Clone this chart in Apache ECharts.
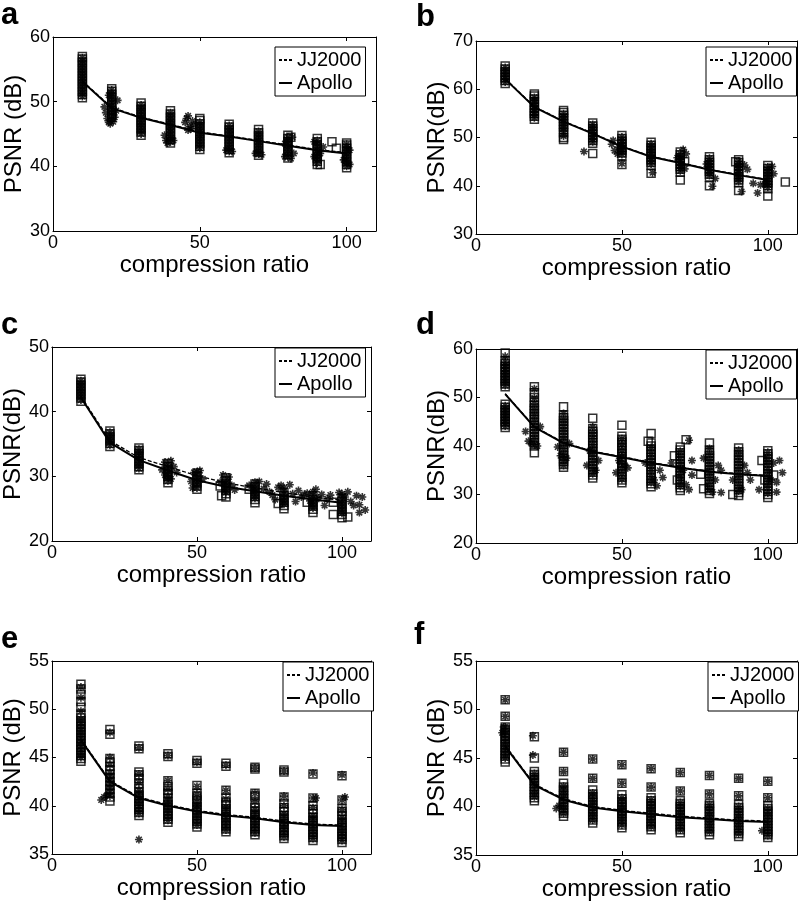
<!DOCTYPE html>
<html>
<head>
<meta charset="utf-8">
<title>PSNR vs compression ratio</title>
<script src="https://cdn.jsdelivr.net/npm/echarts@6.0.0/dist/echarts.min.js"></script>
<style>
  html, body { margin: 0; padding: 0; background: #fff; }
  #chart { width: 799px; height: 902px; }
</style>
</head>
<body>
<div id="chart"></div>
<script>
// compression ratios where every image set was coded
const ratios = [10, 20, 30, 40, 50, 60, 70, 80, 90, 100];

// ---- panel a ----
const aJJ2000 = [53.2, 49.1, 47.6, 46.5, 45.3, 44.7, 44.0, 43.3, 42.6, 42.1];
const aApollo = [53.1, 49.0, 47.5, 46.4, 45.2, 44.6, 43.9, 43.2, 42.5, 42.0];
const aSquares = [
  [50.6, 51.1, 51.6, 52.1, 52.6, 53.1, 53.6, 54.1, 54.6, 55.1, 55.6, 56.1, 56.6, 57.0],
  [47.6, 48.1, 48.6, 49.1, 49.6, 50.1, 50.6, 51.1, 51.6, 52.0],
  [44.8, 45.3, 45.8, 46.3, 46.8, 47.3, 47.8, 48.3, 48.8, 49.3, 49.8],
  [43.6, 44.1, 44.6, 45.1, 45.6, 46.1, 46.6, 47.1, 47.6, 48.1, 48.6],
  [42.6, 43.1, 43.6, 44.1, 44.6, 45.1, 45.6, 46.1, 46.6, 47.1, 47.4],
  [42.1, 42.6, 43.1, 43.6, 44.1, 44.6, 45.1, 45.6, 46.1, 46.5],
  [41.7, 42.2, 42.7, 43.2, 43.7, 44.2, 44.7, 45.2, 45.7],
  [41.3, 41.8, 42.3, 42.8, 43.3, 43.8, 44.3, 44.8],
  [40.3, 40.8, 41.3, 41.8, 42.3, 42.8, 43.3, 43.8, 44.3],
  [39.8, 40.3, 40.8, 41.3, 41.8, 42.3, 42.8, 43.3, 43.6]
];
const aSquaresOff = [[95, 43.8], [96.5, 42.8], [91, 40.3], [81, 44.5]];
const aStars = [
  [50.8, 51.3, 51.8, 52.3, 52.8, 53.3, 53.8, 54.3, 54.8, 55.3, 55.8, 56.3, 56.8],
  [47.3, 47.8, 48.3, 48.8, 49.3, 49.8, 50.3, 50.8, 51.3, 51.8],
  [45.0, 45.5, 46.0, 46.5, 47.0, 47.5, 48.0, 48.5, 49.0, 49.5],
  [43.8, 44.3, 44.8, 45.3, 45.8, 46.3, 46.8, 47.3, 47.8, 48.3],
  [42.8, 43.3, 43.8, 44.3, 44.8, 45.3, 45.8, 46.3, 46.8],
  [42.3, 42.8, 43.3, 43.8, 44.3, 44.8, 45.3, 45.8, 46.3],
  [41.9, 42.4, 42.9, 43.4, 43.9, 44.4, 44.9, 45.4],
  [41.5, 42.0, 42.5, 43.0, 43.5, 44.0, 44.5],
  [40.5, 41.0, 41.5, 42.0, 42.5, 43.0, 43.5, 44.0],
  [40.0, 40.5, 41.0, 41.5, 42.0, 42.5, 43.0, 43.4]
];
const aStarsOff = [[17.5, 49.2], [18, 48.3], [18.5, 47.4], [19, 46.8], [19.5, 46.6], [20.5, 46.9], [21, 47.6],
  [21.5, 48.6], [22, 50.2], [19, 51], [38.5, 44], [39, 43.6], [38, 44.8], [41, 44], [45, 46.8], [45.5, 47.4],
  [46, 47.8], [46.5, 46.2], [47, 45.8], [47.5, 47], [46, 45.6], [48, 46.4], [79, 41.5], [81, 41.2], [82, 42],
  [79, 43.5], [81.5, 44.5], [89, 41.5], [91, 42], [92, 43], [89, 43.8], [99, 41], [101, 42.5], [101, 40.3],
  [61, 42.3], [59, 42.5], [69, 42], [71, 41.8]];

// ---- panel b ----
const bJJ2000 = [62.2, 56.4, 53.4, 50.9, 48.2, 46.1, 44.8, 43.4, 42.3, 41.3];
const bApollo = [62.1, 56.3, 53.3, 50.8, 48.1, 46.0, 44.7, 43.3, 42.2, 41.2];
const bSquares = [
  [61.2, 61.8, 62.4, 63.0, 63.6, 64.2, 64.8],
  [53.8, 54.4, 55.0, 55.6, 56.2, 56.8, 57.4, 58.0, 58.6, 59.0],
  [49.6, 50.0, 51.0, 51.6, 52.2, 52.8, 53.4, 54.0, 54.6, 55.2, 55.6],
  [46.7, 48.8, 49.4, 50.0, 50.6, 51.2, 51.8, 52.4, 53.0],
  [44.4, 46.2, 46.8, 47.4, 48.0, 48.6, 49.2, 49.8, 50.4],
  [42.6, 44.2, 44.8, 45.4, 46.0, 46.6, 47.2, 47.8, 48.4, 49.0],
  [41.2, 42.8, 43.4, 44.0, 44.6, 45.2, 45.8, 46.4, 47.0],
  [40.0, 41.8, 42.4, 43.0, 43.6, 44.2, 44.8, 45.4, 46.0],
  [39.0, 40.6, 41.2, 41.8, 42.4, 43.0, 43.6, 44.2, 44.8, 45.4],
  [37.9, 39.4, 40.0, 40.6, 41.2, 41.8, 42.4, 43.0, 43.6, 44.2]
];
const bSquaresOff = [[106, 40.8], [71.5, 45], [89, 45]];
const bStars = [
  [61.5, 62.1, 62.7, 63.3, 63.9, 64.5],
  [54.1, 54.7, 55.3, 55.9, 56.5, 57.1, 57.7, 58.3],
  [50.3, 51.3, 51.9, 52.5, 53.1, 53.7, 54.3, 54.9],
  [49.1, 49.7, 50.3, 50.9, 51.5, 52.1, 52.7],
  [46.5, 47.1, 47.7, 48.3, 48.9, 49.5, 50.1],
  [44.5, 45.1, 45.7, 46.3, 46.9, 47.5, 48.1, 48.7],
  [43.1, 43.7, 44.3, 44.9, 45.5, 46.1, 46.7],
  [42.1, 42.7, 43.3, 43.9, 44.5, 45.1, 45.7],
  [40.9, 41.5, 42.1, 42.7, 43.3, 43.9, 44.5, 45.1],
  [39.7, 40.3, 40.9, 41.5, 42.1, 42.7, 43.3, 43.9]
];
const bStarsOff = [[37, 47.1], [46.5, 48.6], [47.5, 47.3], [48.5, 46.6], [47, 49.4], [49, 48], [50, 44.6],
  [60.5, 42.7], [71, 47.5], [72, 46.6], [69, 45.8], [71.5, 43.5], [81, 39.9], [82, 41.5], [79, 44.5],
  [91, 38.8], [92, 44.3], [93, 43.4], [95, 40.5], [96.5, 38.5], [97.5, 40.2], [102, 42.5], [101.5, 44], [99, 40.4]];

// ---- panel c ----
const cJJ2000 = [42.4, 35.5, 32.9, 31.5, 30.1, 29.0, 28.2, 27.5, 26.8, 26.3];
const cApollo = [42.2, 35.2, 32.5, 30.9, 29.4, 28.4, 27.7, 27.0, 26.4, 25.9];
const cSquares = [
  [41.6, 42.1, 42.6, 43.1, 43.6, 44.1, 44.6, 45.0],
  [34.6, 35.1, 35.6, 36.1, 36.6, 37.0],
  [31.0, 31.5, 32.0, 32.5, 33.0, 33.5, 34.0, 34.4],
  [29.0, 29.5, 30.0, 30.5, 31.0, 31.5, 32.0],
  [28.0, 28.5, 29.0, 29.5, 30.0, 30.5],
  [26.8, 27.3, 27.8, 28.3, 28.8, 29.3, 29.8],
  [25.9, 26.4, 26.9, 27.4, 27.9, 28.4, 28.8],
  [25.0, 25.5, 26.0, 26.5, 27.0, 27.5],
  [24.4, 24.9, 25.4, 25.9, 26.4, 27.0],
  [23.6, 24.1, 24.6, 25.1, 25.6, 26.1, 26.6]
];
const cSquaresOff = [[58, 28.5], [58.5, 27], [78, 25.8], [88, 26], [97, 24.1], [97, 26], [102, 23.7], [68, 28]];
const cStars = [
  [41.8, 42.3, 42.8, 43.3, 43.8, 44.3, 44.8],
  [34.8, 35.3, 35.8, 36.3, 36.8],
  [31.2, 31.7, 32.2, 32.7, 33.2, 33.7, 34.2],
  [29.3, 29.8, 30.3, 30.8, 31.3, 31.8],
  [28.2, 28.7, 29.2, 29.7, 30.2, 30.7],
  [27.5, 28.0, 28.5, 29.0, 29.5],
  [26.6, 27.1, 27.6, 28.1, 28.6, 29.1],
  [25.7, 26.2, 26.7, 27.2, 27.7, 28.2],
  [25.1, 25.6, 26.1, 26.6, 27.1, 27.6],
  [24.3, 24.8, 25.3, 25.8, 26.3, 26.8, 27.3]
];
const cStarsOff = [[38, 31], [39, 32.2], [41, 32.4], [42, 31.5], [43, 30.6], [41, 29.6], [39, 30.2], [48, 29.2],
  [49, 30.6], [51, 30.9], [52, 29.6], [48.5, 28.2], [58, 29.1], [59, 30.2], [61, 29.9], [62, 28.6], [63, 27.9],
  [68, 28.6], [71.5, 29.2], [73, 28.1], [75, 27.6], [74, 28.8], [76, 27.1], [77, 26.4], [78, 28.3], [79, 28.6],
  [82, 28.7], [83, 27.3], [84, 26.1], [86, 26.8], [87, 27.2], [85, 27.8], [88, 27.4], [89, 26.2], [91, 28],
  [92, 26.6], [93, 27.2], [95, 26.5], [96, 27.1], [94, 25.5], [99, 27.5], [101, 26.8], [102, 27.6], [103, 26.1],
  [104, 25.5], [105, 27], [106, 25.6], [107, 26.8], [108, 24.8], [106, 24.4]];

// ---- panel d ----
const dJJ2000 = [50.8, 44.0, 40.7, 38.9, 37.8, 36.6, 35.6, 34.8, 34.3, 33.9];
const dApollo = [50.7, 43.9, 40.6, 38.8, 37.7, 36.5, 35.5, 34.7, 34.2, 33.8];
const dSquares = [
  [43.8, 44.4, 45.0, 45.6, 46.2, 46.8, 47.4, 48.0, 48.6, 52.2, 52.8, 53.4, 54.0, 54.6, 55.2, 55.8, 56.4, 57.0, 57.6, 59.2],
  [38.6, 40.0, 40.6, 41.2, 41.8, 42.4, 43.0, 43.6, 44.2, 44.8, 45.4, 46.0, 46.6, 47.2, 47.8, 48.4, 49.0, 50.0, 51.0, 52.2],
  [35.6, 36.2, 36.8, 37.4, 38.0, 38.6, 39.2, 39.8, 40.4, 41.0, 41.6, 42.2, 42.8, 43.4, 44.0, 44.6, 45.2, 45.8, 46.4, 48.1],
  [33.4, 34.0, 34.6, 35.2, 35.8, 36.4, 37.0, 37.6, 38.2, 38.8, 39.4, 40.0, 40.6, 41.2, 41.8, 42.4, 43.0, 43.6, 45.7],
  [32.4, 33.0, 33.6, 34.2, 34.8, 35.4, 36.0, 36.6, 37.2, 37.8, 38.4, 39.0, 39.6, 40.2, 40.8, 41.4, 42.0, 44.3],
  [31.6, 32.2, 32.8, 33.4, 34.0, 34.6, 35.2, 35.8, 36.4, 37.0, 37.6, 38.2, 38.8, 39.4, 40.0, 40.6, 42.6],
  [30.8, 31.4, 32.0, 32.6, 33.2, 33.8, 34.4, 35.0, 35.6, 36.2, 36.8, 37.4, 38.0, 38.6, 39.2, 39.8],
  [30.2, 30.8, 31.4, 32.0, 32.6, 33.2, 33.8, 34.4, 35.0, 35.6, 36.2, 36.8, 37.4, 38.0, 38.6, 39.2, 40.6],
  [29.8, 30.4, 31.0, 31.6, 32.2, 32.8, 33.4, 34.0, 34.6, 35.2, 35.8, 36.4, 37.0, 37.6, 38.2, 38.8, 39.6],
  [29.4, 30.0, 30.6, 31.2, 31.8, 32.4, 33.0, 33.6, 34.2, 34.8, 35.4, 36.0, 36.6, 37.2, 37.8, 38.4, 39.0]
];
const dSquaresOff = [[59, 41], [68, 38], [69, 33], [72, 41.3], [77, 34.2], [78, 31.2], [88, 30], [98, 37], [99, 33], [102, 34]];
const dStars = [
  [44.1, 44.7, 45.3, 45.9, 46.5, 47.1, 47.7, 48.3, 52.5, 53.1, 53.7, 54.3, 54.9, 55.5, 56.1, 56.7, 57.3, 58.5],
  [40.3, 41.5, 42.7, 43.9, 45.1, 46.3, 47.5, 48.7, 49.9, 51.8],
  [36.0, 37.1, 38.3, 39.5, 40.7, 41.9, 43.1, 44.3, 45.5, 46.7],
  [34.3, 35.5, 36.7, 37.9, 39.1, 40.3, 41.5, 42.7, 43.9],
  [33.1, 34.3, 35.5, 36.7, 37.9, 39.1, 40.3, 41.5],
  [32.5, 33.7, 34.9, 36.1, 37.3, 38.5, 39.7],
  [31.7, 32.9, 34.1, 35.3, 36.5, 37.7, 38.9],
  [31.1, 32.3, 33.5, 34.7, 35.9, 37.1, 38.3, 39.5],
  [30.7, 31.9, 33.1, 34.3, 35.5, 36.7, 37.9, 39.1],
  [30.3, 31.5, 32.7, 33.9, 35.1, 36.3, 37.5, 38.7]
];
const dStarsOff = [[17, 43], [18, 41], [19, 40.5], [21, 40], [22, 44], [28, 39.8], [29, 38], [31, 37.5], [32, 40.5],
  [38, 36], [39, 39], [41, 35], [42, 37], [48, 34.5], [49, 37], [51, 36], [52, 35.5], [58, 36.5], [61, 33],
  [62, 31.8], [63, 35], [64, 33.5], [67, 36.5], [71, 35], [72, 32], [73, 31], [74, 37], [73, 41.2], [74, 34],
  [78, 37.5], [81, 30.5], [82, 33], [83, 36], [84, 30.4], [84, 35], [88, 33], [91, 31], [92, 36], [93, 34.5],
  [94, 33], [97, 31], [101, 33], [102, 36.5], [103, 32.5], [104, 37], [105, 34.5], [103, 30.5]];

// ---- panel e ----
const eJJ2000 = [46.9, 42.6, 40.9, 40.1, 39.5, 39.1, 38.8, 38.4, 38.1, 38.0];
const eApollo = [46.8, 42.5, 40.8, 40.0, 39.4, 39.0, 38.7, 38.3, 38.0, 37.9];
const eSquares = [
  [44.6, 44.9, 45.2, 45.5, 45.8, 46.1, 46.4, 46.7, 47.0, 47.3, 47.6, 47.9, 48.2, 48.5, 48.8, 49.1, 49.5, 50.2, 50.8, 51.5, 52.1, 52.6],
  [40.5, 40.9, 41.3, 41.7, 42.1, 42.5, 42.9, 43.3, 43.7, 44.1, 44.5, 44.9, 47.4, 47.9],
  [39.0, 39.3, 39.6, 39.9, 40.2, 40.5, 40.8, 41.1, 41.4, 41.8, 42.3, 42.8, 43.2, 43.5, 45.9, 46.2],
  [38.3, 38.6, 38.9, 39.2, 39.5, 39.8, 40.1, 40.4, 40.8, 41.3, 41.6, 42.0, 42.6, 45.1, 45.4],
  [37.8, 38.1, 38.4, 38.7, 39.0, 39.3, 39.6, 39.9, 40.3, 40.6, 41.0, 41.3, 42.1, 44.4, 44.7],
  [37.3, 37.6, 37.9, 38.2, 38.5, 38.8, 39.1, 39.4, 39.7, 40.1, 40.4, 40.8, 41.6, 44.1, 44.4],
  [37.0, 37.3, 37.6, 37.9, 38.2, 38.5, 38.8, 39.1, 39.4, 39.8, 40.3, 41.0, 41.3, 43.8, 44.0],
  [36.6, 36.9, 37.2, 37.5, 37.8, 38.1, 38.4, 38.7, 39.0, 39.4, 39.8, 40.2, 40.9, 43.5, 43.7],
  [36.4, 36.7, 37.0, 37.3, 37.6, 37.9, 38.2, 38.5, 38.8, 39.2, 39.6, 40.0, 40.8, 43.3],
  [36.2, 36.5, 36.8, 37.1, 37.4, 37.7, 38.0, 38.3, 38.6, 39.0, 39.4, 39.7, 40.6, 43.1]
];
const eSquaresOff = [];
const eStars = [
  [45, 45.4, 45.8, 46.2, 46.6, 47.0, 47.4, 47.8, 48.2, 48.6, 49, 49.8, 51.2, 52.3],
  [41, 41.4, 41.8, 42.2, 42.6, 43.0, 43.4, 44.2, 45, 47.6],
  [39.2, 39.6, 40, 40.4, 40.8, 41.2, 41.6, 42.4, 43.3, 46],
  [38.5, 38.9, 39.3, 39.7, 40.1, 40.5, 40.9, 41.7, 42.6, 45.2],
  [38, 38.4, 38.8, 39.2, 39.6, 40.0, 40.4, 41.2, 42, 44.5],
  [37.5, 37.9, 38.3, 38.7, 39.1, 39.5, 39.9, 40.7, 41.6, 44.2],
  [37.2, 37.6, 38, 38.4, 38.8, 39.2, 39.6, 40.4, 41.3, 43.9],
  [36.8, 37.2, 37.6, 38.0, 38.4, 38.8, 39.2, 40, 41, 43.6],
  [36.6, 37.0, 37.4, 37.8, 38.2, 38.6, 39, 39.8, 40.8, 43.4],
  [36.4, 36.8, 37.2, 37.6, 38, 38.4, 38.8, 39.6, 40.6, 43.2]
];
const eStarsOff = [[30, 36.5], [17, 40.6], [18, 40.9], [19, 41.1], [101, 40.9], [91, 40.8]];

// ---- panel f ----
const fJJ2000 = [46.3, 42.3, 40.8, 40.0, 39.6, 39.3, 39.0, 38.8, 38.6, 38.5];
const fApollo = [46.2, 42.2, 40.7, 39.9, 39.5, 39.2, 38.9, 38.7, 38.5, 38.4];
const fSquares = [
  [44.6, 44.9, 45.2, 45.5, 45.8, 46.1, 46.4, 46.7, 47.0, 47.3, 47.6, 47.9, 48.2, 49.3, 51.0],
  [40.6, 40.9, 41.2, 41.5, 41.8, 42.1, 42.4, 42.7, 43.0, 43.3, 43.6, 45.0, 47.2],
  [39.0, 39.3, 39.6, 39.9, 40.2, 40.5, 40.8, 41.1, 41.4, 41.7, 42.0, 42.4, 43.6, 45.6],
  [38.3, 38.6, 38.9, 39.2, 39.5, 39.8, 40.1, 40.4, 40.7, 41.0, 41.3, 41.7, 42.9, 44.9],
  [37.8, 38.1, 38.4, 38.7, 39.0, 39.3, 39.6, 39.9, 40.2, 40.5, 40.8, 41.2, 42.4, 44.3],
  [37.6, 37.9, 38.2, 38.5, 38.8, 39.1, 39.4, 39.7, 40.0, 40.3, 40.6, 40.9, 42.0, 43.9],
  [37.3, 37.6, 37.9, 38.2, 38.5, 38.8, 39.1, 39.4, 39.7, 40.0, 40.3, 40.6, 41.6, 43.5],
  [37.1, 37.4, 37.7, 38.0, 38.3, 38.6, 38.9, 39.2, 39.5, 39.8, 40.1, 40.3, 41.3, 43.2],
  [36.9, 37.2, 37.5, 37.8, 38.1, 38.4, 38.7, 39.0, 39.3, 39.6, 39.9, 40.2, 41.1, 42.9],
  [36.8, 37.1, 37.4, 37.7, 38.0, 38.3, 38.6, 38.9, 39.2, 39.5, 39.8, 40.1, 40.9, 42.6]
];
const fSquaresOff = [];
const fStars = [
  [45, 45.4, 45.8, 46.2, 46.6, 47.0, 47.4, 47.8, 48.2, 49.3, 51],
  [41, 41.4, 41.8, 42.2, 42.6, 43.0, 43.4],
  [39.3, 39.7, 40.1, 40.5, 40.9, 41.3, 41.7, 42.1, 43.6, 45.6],
  [38.6, 39.0, 39.4, 39.8, 40.2, 40.6, 41, 41.4, 42.9, 44.9],
  [38.1, 38.5, 38.9, 39.3, 39.7, 40.1, 40.5, 40.9, 42.4, 44.3],
  [37.9, 38.3, 38.7, 39.1, 39.5, 39.9, 40.3, 40.7, 42, 43.9],
  [37.6, 38.0, 38.4, 38.8, 39.2, 39.6, 40, 40.4, 41.6, 43.5],
  [37.4, 37.8, 38.2, 38.6, 39, 39.4, 39.8, 40.2, 41.3, 43.2],
  [37.2, 37.6, 38, 38.4, 38.8, 39.2, 39.6, 40.0, 41.1, 42.9],
  [37, 37.4, 37.8, 38.2, 38.6, 39.0, 39.4, 39.8, 40.9, 42.6]
];
const fStarsOff = [[19.5, 47.3], [19.5, 45.3], [28.5, 40.1], [27.5, 39.8], [98, 37.5], [9.5, 48.2], [9, 47.6]];

// 布局：每个子图的位置（像素）
const panels = [
  { letter: 'a', yMin: 30, yMax: 60, yStep: 10, yName: 'PSNR (dB)',
    grid: { left: 53, top: 37, width: 323, height: 194 }, legend: { left: 275, top: 47 }, label: { left: 1, top: 0 },
    jj: aJJ2000, ap: aApollo, sq: aSquares, sqOff: aSquaresOff, st: aStars, stOff: aStarsOff },
  { letter: 'b', yMin: 30, yMax: 70, yStep: 10, yName: 'PSNR(dB)',
    grid: { left: 476, top: 41, width: 321, height: 193 }, legend: { left: 706, top: 47 }, label: { left: 416, top: 2 },
    jj: bJJ2000, ap: bApollo, sq: bSquares, sqOff: bSquaresOff, st: bStars, stOff: bStarsOff },
  { letter: 'c', yMin: 20, yMax: 50, yStep: 10, yName: 'PSNR(dB)',
    grid: { left: 49, top: 347, width: 322, height: 194 }, legend: { left: 275, top: 348 }, label: { left: 1, top: 310 },
    jj: cJJ2000, ap: cApollo, sq: cSquares, sqOff: cSquaresOff, st: cStars, stOff: cStarsOff },
  { letter: 'd', yMin: 20, yMax: 60, yStep: 10, yName: 'PSNR(dB)',
    grid: { left: 476, top: 349, width: 321, height: 194 }, legend: { left: 706, top: 350 }, label: { left: 416, top: 310 },
    jj: dJJ2000, ap: dApollo, sq: dSquares, sqOff: dSquaresOff, st: dStars, stOff: dStarsOff },
  { letter: 'e', yMin: 35, yMax: 55, yStep: 5, yName: 'PSNR (dB)',
    grid: { left: 49, top: 661, width: 322, height: 193 }, legend: { left: 283, top: 662 }, label: { left: 1, top: 624 },
    jj: eJJ2000, ap: eApollo, sq: eSquares, sqOff: eSquaresOff, st: eStars, stOff: eStarsOff },
  { letter: 'f', yMin: 35, yMax: 55, yStep: 5, yName: 'PSNR (dB)',
    grid: { left: 476, top: 661, width: 321, height: 195 }, legend: { left: 708, top: 662 }, label: { left: 414, top: 620 },
    jj: fJJ2000, ap: fApollo, sq: fSquares, sqOff: fSquaresOff, st: fStars, stOff: fStarsOff }
];

const FONT = '"Liberation Sans", Arial, Helvetica, sans-serif';
const STAR = 'path://M5,0L5,10M0,5L10,5M1.5,1.5L8.5,8.5M1.5,8.5L8.5,1.5';
// 图例图标：虚线（三段）和实线
const DASH_ICON = 'path://M0,0h3v2h-3zM5,0h3v2h-3zM10,0h3v2h-3z';

// 把每个压缩比下的数值展开成 [x, y]
const toPoints = (lists, extra) => {
  const pts = [];
  lists.forEach((ys, i) => ys.forEach(y => pts.push([ratios[i], y])));
  return pts.concat(extra);
};

const axisLine = { onZero: false, lineStyle: { color: '#000', width: 1 } };
const axisTick = { inside: true, length: 4, lineStyle: { color: '#000', width: 1 } };

const grid = [], xAxis = [], yAxis = [], series = [], legend = [], title = [];

panels.forEach((p, i) => {
  grid.push(p.grid);
  title.push({
    text: p.letter, left: p.label.left, top: p.label.top, padding: 0,
    textStyle: { fontFamily: FONT, fontSize: 31, fontWeight: 'bold', color: '#000' }
  });
  legend.push({
    left: p.legend.left, top: p.legend.top, orient: 'vertical',
    data: [{ name: 'JJ2000', icon: DASH_ICON }, { name: 'Apollo', icon: 'rect' }],
    selectedMode: false,
    backgroundColor: '#fff', borderColor: '#000', borderWidth: 1, borderRadius: 0,
    padding: [3, 4, 3, 4], itemWidth: 13, itemHeight: 2, itemGap: 3,
    textStyle: { fontFamily: FONT, fontSize: 20, color: '#000' }
  });
  // 下、上 x 轴
  xAxis.push({
    gridIndex: i, type: 'value', min: 0, max: 110, interval: 50, position: 'bottom',
    axisLine, axisTick, splitLine: { show: false },
    axisLabel: { color: '#000', fontFamily: FONT, fontSize: 18, margin: 3, showMaxLabel: false },
    name: 'compression ratio', nameLocation: 'middle', nameGap: 22,
    nameTextStyle: { fontFamily: FONT, fontSize: 24, color: '#000' }
  });
  xAxis.push({
    gridIndex: i, type: 'value', min: 0, max: 110, interval: 50, position: 'top',
    axisLine, axisTick, splitLine: { show: false }, axisLabel: { show: false }
  });
  // 左、右 y 轴
  yAxis.push({
    gridIndex: i, type: 'value', min: p.yMin, max: p.yMax, interval: p.yStep, position: 'left',
    axisLine, axisTick, splitLine: { show: false },
    axisLabel: { color: '#000', fontFamily: FONT, fontSize: 18, margin: 3 },
    name: p.yName, nameLocation: 'middle', nameGap: 25,
    nameTextStyle: { fontFamily: FONT, fontSize: 24, color: '#000' }
  });
  yAxis.push({
    gridIndex: i, type: 'value', min: p.yMin, max: p.yMax, interval: p.yStep, position: 'right',
    axisLine, axisTick, splitLine: { show: false }, axisLabel: { show: false }
  });

  const ax = { xAxisIndex: i * 2, yAxisIndex: i * 2 };
  series.push({
    ...ax, type: 'scatter', name: 'JJ2000 points', symbol: 'rect', symbolSize: 8,
    itemStyle: { color: 'transparent', borderColor: '#000', borderWidth: 1.5 },
    data: toPoints(p.sq, p.sqOff), silent: true, z: 2
  });
  series.push({
    ...ax, type: 'scatter', name: 'Apollo points', symbol: STAR, symbolSize: 8,
    itemStyle: { color: 'transparent', borderColor: '#000', borderWidth: 1.6 },
    data: toPoints(p.st, p.stOff), silent: true, z: 3
  });
  series.push({
    ...ax, type: 'line', name: 'JJ2000', symbol: 'none', showSymbol: false,
    lineStyle: { color: '#000', width: 1.3, type: [4, 2] }, itemStyle: { color: '#000' },
    data: ratios.map((r, k) => [r, p.jj[k]]), z: 4
  });
  series.push({
    ...ax, type: 'line', name: 'Apollo', symbol: 'none', showSymbol: false,
    lineStyle: { color: '#000', width: 2 }, itemStyle: { color: '#000' },
    data: ratios.map((r, k) => [r, p.ap[k]]), z: 5
  });
});

const chart = echarts.init(document.getElementById('chart'), null, { renderer: 'canvas' });
chart.setOption({
  animation: false,
  backgroundColor: '#fff',
  title, legend, grid, xAxis, yAxis, series
});
</script>
</body>
</html>
